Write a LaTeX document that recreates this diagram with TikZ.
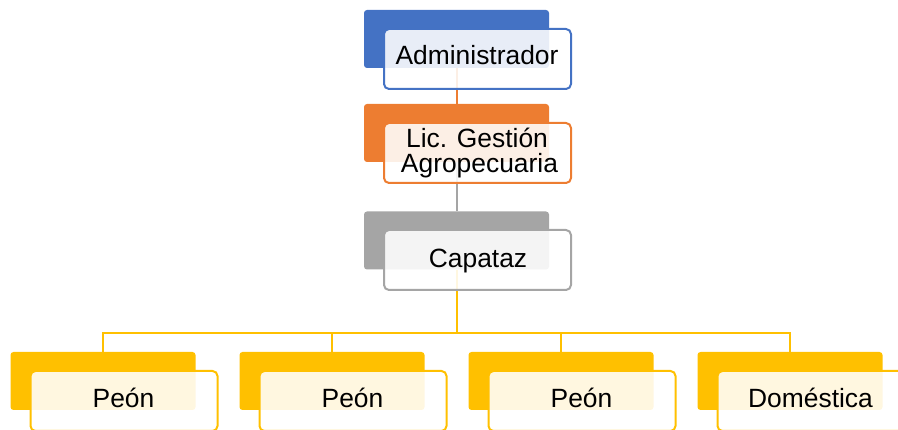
\documentclass[tikz,border=0pt]{standalone}
\usepackage{fontspec}
\setmainfont{Liberation Sans}
\usetikzlibrary{backgrounds}
\definecolor{cblue}{HTML}{4472C4}
\definecolor{corange}{HTML}{ED7D31}
\definecolor{cgray}{HTML}{A5A5A5}
\definecolor{cyellow}{HTML}{FFC000}
\tikzset{
  backbox/.style={rectangle, rounded corners=3pt, draw=none, fill=#1, inner sep=0pt, minimum width=185pt, minimum height=58pt},
  frontbox/.style={rectangle, rounded corners=5pt, draw=#1, line width=2pt, fill=white, fill opacity=0.88, inner sep=0pt, minimum width=187pt, minimum height=60pt},
  txt/.style={anchor=base, inner sep=0pt, text=black, font=\fontsize{26.4}{25}\selectfont},
  link/.style={draw=#1, line width=2pt},
}
\begin{document}
\begin{tikzpicture}[x=1pt,y=-1pt]
\useasboundingbox (0,0) rectangle (898,430);
% back boxes
\node[backbox=cblue] (adminB) at (456.5,39) {};
\node[backbox=corange] (licB) at (456.5,133) {};
\node[backbox=cgray] (capB) at (456.5,240.5) {};
\node[backbox=cyellow] (p1B) at (103,381) {};
\node[backbox=cyellow] (p2B) at (332,381) {};
\node[backbox=cyellow] (p3B) at (561,381) {};
\node[backbox=cyellow] (domB) at (790,381) {};
% front boxes
\node[frontbox=cblue] (adminF) at (477.5,59) {};
\node[frontbox=corange] (licF) at (477.5,153) {};
\node[frontbox=cgray] (capF) at (477.5,260) {};
\node[frontbox=cyellow] (p1F) at (124,401) {};
\node[frontbox=cyellow] (p2F) at (353,401) {};
\node[frontbox=cyellow] (p3F) at (582,401) {};
\node[frontbox=cyellow] (domF) at (811,401) {};
% texts
\node[txt] (adminT) at (477,65) {Administrador};
\node[txt] (licT1) at (477,148) {Lic. Gestión};
\node[txt] (licT2) at (479.5,173) {Agropecuaria};
\node[txt] (capT) at (478,268) {Capataz};
\node[txt] (p1T) at (123.5,408) {Peón};
\node[txt] (p2T) at (352.5,408) {Peón};
\node[txt] (p3T) at (581.5,408) {Peón};
\node[txt] (domT) at (810.5,408) {Doméstica};
\coordinate (bus) at (0,333);
% connectors
\begin{pgfonlayer}{background}
\draw[link=corange] (adminB.south) -- (licB.north);
\draw[link=cgray] (licB.south) -- (capB.north);
\draw[link=cyellow] (capB.south) -- (capB.south |- bus) -| (p1B.north);
\draw[link=cyellow] (capB.south) -- (capB.south |- bus) -| (p2B.north);
\draw[link=cyellow] (capB.south) -- (capB.south |- bus) -| (p3B.north);
\draw[link=cyellow] (capB.south) -- (capB.south |- bus) -| (domB.north);
\end{pgfonlayer}
\end{tikzpicture}
\end{document}
